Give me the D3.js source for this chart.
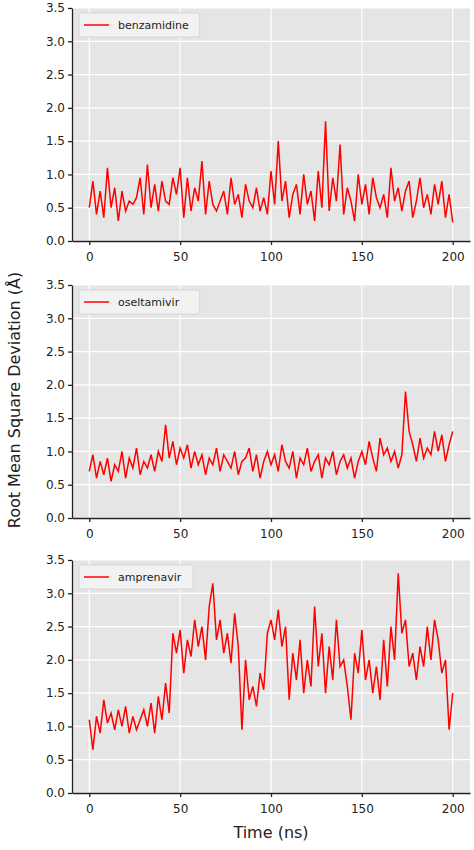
<!DOCTYPE html>
<html><head><meta charset="utf-8">
<script src="https://cdn.jsdelivr.net/npm/d3@7"></script>
<style>body{margin:0;background:#fff}text{font-family:"DejaVu Sans",sans-serif}</style>
</head><body><svg id="c" width="474" height="850"></svg>
<script>
const seriesNames = ["benzamidine","oseltamivir","amprenavir"];
const timeStep = 2; // ns between samples
const benzamidine = [0.5,0.9,0.4,0.75,0.35,1.1,0.5,0.8,0.3,0.75,0.45,0.6,0.55,0.65,0.95,0.4,1.15,0.5,0.85,0.45,0.9,0.6,0.55,0.95,0.7,1.1,0.35,0.95,0.45,0.8,0.6,1.2,0.4,0.9,0.55,0.45,0.6,0.75,0.4,0.95,0.55,0.7,0.35,0.85,0.6,0.5,0.8,0.45,0.65,0.4,1.05,0.55,1.5,0.6,0.9,0.35,0.7,0.85,0.4,1.0,0.55,0.75,0.3,1.05,0.5,1.8,0.45,0.95,0.6,1.45,0.4,0.8,0.6,0.3,1.0,0.55,0.85,0.4,0.95,0.65,0.5,0.7,0.35,1.1,0.6,0.8,0.45,0.75,0.9,0.35,0.6,0.95,0.5,0.7,0.4,0.85,0.55,0.9,0.35,0.7,0.28];
const oseltamivir = [0.7,0.95,0.6,0.85,0.65,0.9,0.55,0.8,0.7,1.0,0.6,0.9,0.75,1.05,0.65,0.85,0.75,0.95,0.7,1.0,0.85,1.4,0.9,1.15,0.8,1.05,0.9,1.1,0.75,1.0,0.8,0.95,0.65,0.9,0.8,1.05,0.7,0.95,0.85,0.75,1.0,0.65,0.85,0.9,1.05,0.7,0.95,0.6,0.85,1.0,0.8,0.95,0.7,1.1,0.85,0.75,1.0,0.6,0.9,0.8,1.05,0.7,0.85,0.95,0.6,0.9,0.8,1.0,0.65,0.85,0.95,0.75,0.9,0.6,0.85,1.0,0.8,1.15,0.9,0.7,1.2,0.95,1.05,0.85,1.0,0.75,0.95,1.9,1.3,1.1,0.85,1.2,0.9,1.05,0.95,1.3,1.0,1.25,0.85,1.1,1.3];
const amprenavir = [1.1,0.65,1.15,0.9,1.4,1.05,1.2,0.95,1.25,1.0,1.3,0.9,1.15,0.95,1.1,1.25,1.0,1.35,0.9,1.45,1.1,1.65,1.2,2.4,2.1,2.45,1.8,2.3,2.05,2.6,2.2,2.5,2.0,2.8,3.15,2.3,2.6,2.1,2.4,1.95,2.7,2.2,0.95,2.0,1.4,1.6,1.3,1.8,1.55,2.4,2.6,2.3,2.75,2.2,2.5,1.4,2.1,1.7,2.3,1.5,2.0,1.6,2.8,1.9,2.4,1.5,2.2,1.7,2.6,1.9,2.0,1.6,1.1,2.1,1.8,2.45,1.7,2.0,1.5,1.9,1.4,2.3,1.6,2.5,2.0,3.3,2.4,2.6,1.9,2.1,1.7,2.2,1.9,2.5,2.0,2.6,2.3,1.8,2.0,0.95,1.5];
const yTicks = [0,0.5,1,1.5,2,2.5,3,3.5];
const xTicks = [0,50,100,150,200];
const data = [benzamidine, oseltamivir, amprenavir];

const svg = d3.select("#c");
const x = d3.scaleLinear().domain([-9.5,209.5]).range([72,470]);
const tops = [8,285,560], h = 233;
data.forEach((vals,i)=>{
  const y = d3.scaleLinear().domain([0,3.5]).range([tops[i]+h, tops[i]]);
  const g = svg.append("g");
  g.append("rect").attr("x",72).attr("y",tops[i]).attr("width",398).attr("height",h).attr("fill","#e5e5e5");
  xTicks.forEach(t=>g.append("line").attr("x1",x(t)).attr("x2",x(t)).attr("y1",tops[i]).attr("y2",tops[i]+h).attr("stroke","#fff").attr("stroke-width",1.2));
  yTicks.forEach(t=>g.append("line").attr("x1",72).attr("x2",470).attr("y1",y(t)).attr("y2",y(t)).attr("stroke","#fff").attr("stroke-width",1.2));
  const line = d3.line().x((d,j)=>x(j*timeStep)).y(d=>y(d));
  g.append("path").datum(vals).attr("d",line).attr("fill","none").attr("stroke","#ff0000").attr("stroke-width",1.5);
  const ya = g.append("g").attr("transform","translate(72,0)").call(d3.axisLeft(y).tickValues(yTicks).tickFormat(d3.format(".1f")).tickSize(4).tickSizeOuter(0));
  const xa = g.append("g").attr("transform",`translate(0,${tops[i]+h})`).call(d3.axisBottom(x).tickValues(xTicks).tickSize(4).tickSizeOuter(0));
  [ya,xa].forEach(a=>{a.selectAll("text").attr("font-size",12).attr("fill","#222").style("font-family","DejaVu Sans");a.selectAll("path,line").attr("stroke","#222").attr("stroke-width",1.3);});
  xa.selectAll("text").attr("dy","1.1em");
  const lg = g.append("g").attr("transform",`translate(79,${tops[i]+5})`);
  lg.append("rect").attr("width",seriesNames[i].length*6.6+48).attr("height",24).attr("rx",2).attr("fill","#f2f2f2").attr("stroke","#d0d0d0").attr("stroke-width",0.8);
  lg.append("line").attr("x1",5).attr("x2",30).attr("y1",12).attr("y2",12).attr("stroke","#ff0000").attr("stroke-width",1.5);
  lg.append("text").attr("x",39).attr("y",16).attr("font-size",11).attr("fill","#222").text(seriesNames[i]);
});
svg.append("text").attr("transform","translate(20,400) rotate(-90)").attr("text-anchor","middle").attr("font-size",16).attr("fill","#222").text("Root Mean Square Deviation (Å)");
svg.append("text").attr("x",271).attr("y",838).attr("text-anchor","middle").attr("font-size",16).attr("fill","#222").text("Time (ns)");
</script></body></html>
